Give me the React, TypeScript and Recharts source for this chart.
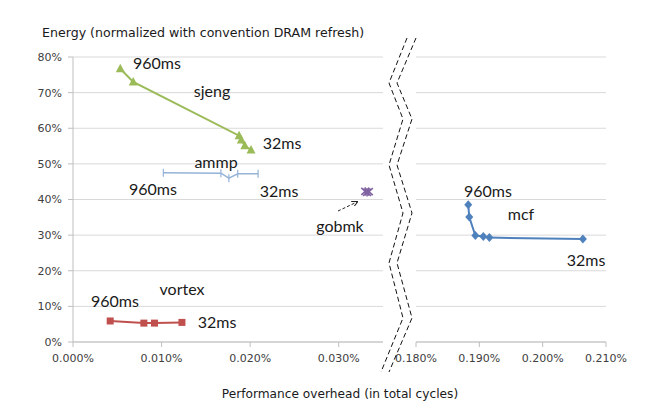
import React from "react";
import { ScatterChart, Scatter, XAxis, YAxis, CartesianGrid, ZAxis } from "recharts";

// values (x in %, y in %)
const sjengX = [0.00534, 0.0068, 0.01875, 0.019, 0.0194, 0.0201];
const sjengY = [76.7, 73.0, 57.9, 56.7, 55.1, 53.9];

const ammpX = [0.0102, 0.0167, 0.0176, 0.0186, 0.0209];
const ammpY = [47.5, 47.4, 46.0, 47.2, 47.2];

const gobmkX = [0.0330, 0.0332, 0.0334];
const gobmkY = [42.3, 42.0, 42.2];

const vortexX = [0.0042, 0.008, 0.0092, 0.0123];
const vortexY = [5.9, 5.3, 5.3, 5.5];

const mcfX = [0.18825, 0.18841, 0.18937, 0.19063, 0.19159, 0.20635];
const mcfY = [38.5, 35.1, 29.9, 29.6, 29.3, 28.9];

const yTicks = [0, 10, 20, 30, 40, 50, 60, 70, 80];
const leftXTicks = [0, 0.01, 0.02, 0.03];
const rightXTicks = [0.18, 0.19, 0.2, 0.21];

const pts = (xs: number[], ys: number[]) => xs.map((x, i) => ({ x, y: ys[i] }));

const tickFont = { fontSize: 11, fill: "#404040", fontFamily: "'DejaVu Sans', sans-serif" };
const axisColor = "#bfbfbf";
const noteFont = "Lato, 'Liberation Sans', sans-serif";

const Triangle = (p: any) => (
  <polygon
    points={`${p.cx},${p.cy - 5} ${p.cx - 4.5},${p.cy + 3.5} ${p.cx + 4.5},${p.cy + 3.5}`}
    fill="#9BBB59"
  />
);
const Square = (p: any) => <rect x={p.cx - 3.5} y={p.cy - 3.5} width={7} height={7} fill="#C0504D" />;
const Diamond = (p: any) => (
  <polygon
    points={`${p.cx},${p.cy - 4.5} ${p.cx + 4},${p.cy} ${p.cx},${p.cy + 4.5} ${p.cx - 4},${p.cy}`}
    fill="#4F81BD"
  />
);
const Bar = (p: any) => (
  <line x1={p.cx} x2={p.cx} y1={p.cy - 4} y2={p.cy + 4} stroke="#95B3D7" strokeWidth={1.2} />
);
const Star = (p: any) => (
  <g stroke="#8064A2" strokeWidth={1.6}>
    <line x1={p.cx - 4} y1={p.cy - 3.5} x2={p.cx + 4} y2={p.cy + 3.5} />
    <line x1={p.cx - 4} y1={p.cy + 3.5} x2={p.cx + 4} y2={p.cy - 3.5} />
    <line x1={p.cx} y1={p.cy - 4} x2={p.cx} y2={p.cy + 4} />
  </g>
);

const notes = [
  { t: "960ms", x: 157, y: 62 },
  { t: "sjeng", x: 212, y: 90 },
  { t: "32ms", x: 282, y: 142 },
  { t: "ammp", x: 216, y: 161 },
  { t: "960ms", x: 153, y: 188 },
  { t: "32ms", x: 279, y: 190 },
  { t: "gobmk", x: 340, y: 225 },
  { t: "vortex", x: 182, y: 288 },
  { t: "960ms", x: 115, y: 300 },
  { t: "32ms", x: 217, y: 321 },
  { t: "960ms", x: 488, y: 190 },
  { t: "mcf", x: 521, y: 213 },
  { t: "32ms", x: 586, y: 259 },
];

const breakA = "M407,38 L389,83 L403,119 L389,165 L403,213 L389,263 L403,318 L381,372";
const breakB = "M416,38 L397,83 L412,119 L397,165 L412,213 L397,263 L412,318 L389,372";

export default function App() {
  return (
    <div style={{ position: "absolute", left: 0, top: 0, width: 661, height: 410, background: "#fff" }}>
      <div style={{ position: "absolute", left: 0, top: 0 }}>
        <ScatterChart width={390} height={372} margin={{ top: 57, right: 7, left: 0, bottom: 0 }}>
          <CartesianGrid vertical={false} stroke="#d9d9d9" />
          <XAxis
            type="number"
            dataKey="x"
            domain={[0, 0.035]}
            ticks={leftXTicks}
            interval={0}
            tickFormatter={(v: number) => v.toFixed(3) + "%"}
            tick={tickFont}
            height={30}
            tickSize={5}
            tickMargin={7}
            stroke={axisColor}
            allowDataOverflow
          />
          <YAxis
            type="number"
            dataKey="y"
            domain={[0, 80]}
            ticks={yTicks}
            interval={0}
            tickFormatter={(v: number) => `${v}%`}
            tick={tickFont}
            width={73}
            tickSize={5}
            tickMargin={6}
            stroke={axisColor}
          />
          <ZAxis range={[50, 50]} />
          <Scatter data={pts(sjengX, sjengY)} line={{ stroke: "#9BBB59", strokeWidth: 2 }} lineType="joint" shape={Triangle} isAnimationActive={false} />
          <Scatter data={pts(ammpX, ammpY)} line={{ stroke: "#95B3D7", strokeWidth: 1.5 }} lineType="joint" shape={Bar} isAnimationActive={false} />
          <Scatter data={pts(gobmkX, gobmkY)} line={{ stroke: "#8064A2", strokeWidth: 2 }} lineType="joint" shape={Star} isAnimationActive={false} />
          <Scatter data={pts(vortexX, vortexY)} line={{ stroke: "#C0504D", strokeWidth: 2 }} lineType="joint" shape={Square} isAnimationActive={false} />
        </ScatterChart>
      </div>
      <div style={{ position: "absolute", left: 370, top: 0 }}>
        <ScatterChart width={291} height={372} margin={{ top: 57, right: 55, left: 46, bottom: 0 }}>
          <CartesianGrid vertical={false} stroke="#d9d9d9" />
          <XAxis
            type="number"
            dataKey="x"
            domain={[0.18, 0.21]}
            ticks={rightXTicks}
            interval={0}
            tickFormatter={(v: number) => v.toFixed(3) + "%"}
            tick={tickFont}
            height={30}
            tickSize={5}
            tickMargin={7}
            stroke={axisColor}
            allowDataOverflow
          />
          <YAxis type="number" dataKey="y" domain={[0, 80]} ticks={yTicks} hide />
          <ZAxis range={[50, 50]} />
          <Scatter data={pts(mcfX, mcfY)} line={{ stroke: "#4F81BD", strokeWidth: 2 }} lineType="joint" shape={Diamond} isAnimationActive={false} />
        </ScatterChart>
      </div>
      <svg width={661} height={410} style={{ position: "absolute", left: 0, top: 0, pointerEvents: "none" }}>
        <defs>
          <marker id="ah" markerWidth="6" markerHeight="6" refX="5" refY="3" orient="auto">
            <path d="M0,0 L6,3 L0,6" fill="none" stroke="#222" strokeWidth={1} />
          </marker>
        </defs>
        <text x={42} y={37} fontSize={12.6} fill="#1a1a1a" fontFamily="'DejaVu Sans', sans-serif">
          Energy (normalized with convention DRAM refresh)
        </text>
        <text x={340} y={398} textAnchor="middle" fontSize={12.2} fill="#1a1a1a" fontFamily="'DejaVu Sans', sans-serif">
          Performance overhead (in total cycles)
        </text>
        {notes.map((n, i) => (
          <text key={i} x={n.x} y={n.y} textAnchor="middle" dominantBaseline="central" fontSize={16} fill="#1a1a1a" fontFamily={noteFont}>
            {n.t}
          </text>
        ))}
        <line x1={338} y1={211} x2={357} y2={202} stroke="#222" strokeWidth={1} strokeDasharray="3 2" markerEnd="url(#ah)" />
        <path d={breakA} fill="none" stroke="#111" strokeWidth={1} strokeDasharray="5 3" />
        <path d={breakB} fill="none" stroke="#111" strokeWidth={1} strokeDasharray="5 3" />
      </svg>
    </div>
  );
}
